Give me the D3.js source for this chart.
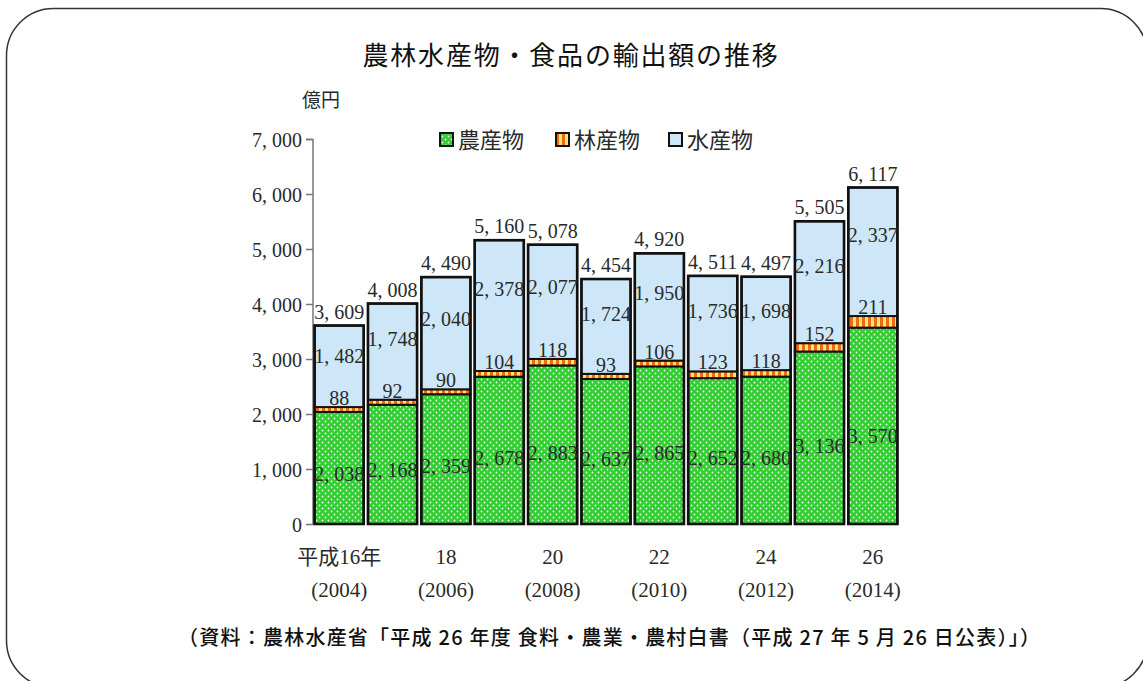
<!DOCTYPE html>
<html>
<head>
<meta charset="utf-8">
<script src="https://cdn.jsdelivr.net/npm/d3@7/dist/d3.min.js"></script>
<style>
  html, body { margin: 0; padding: 0; background: #fff; }
  svg { display: block; }
</style>
</head>
<body>
<svg id="chart" width="1143" height="681"></svg>
<script>
// 農林水産物・食品の輸出額（億円）
const years = [2004, 2005, 2006, 2007, 2008, 2009, 2010, 2011, 2012, 2013, 2014];
const agri = [2038, 2168, 2359, 2678, 2883, 2637, 2865, 2652, 2680, 3136, 3570];
const forest = [88, 92, 90, 104, 118, 93, 106, 123, 118, 152, 211];
const fish = [1482, 1748, 2040, 2378, 2077, 1724, 1950, 1736, 1698, 2216, 2337];
const totals = [3609, 4008, 4490, 5160, 5078, 4454, 4920, 4511, 4497, 5505, 6117];

const yTicks = [0, 1000, 2000, 3000, 4000, 5000, 6000, 7000];
const xTickYears = [2004, 2006, 2008, 2010, 2012, 2014];
const xTickEra = ["平成16年", "18", "20", "22", "24", "26"];

const seriesNames = ["農産物", "林産物", "水産物"];

const svg = d3.select("#chart");
const serif = "'Liberation Serif', 'DejaVu Serif', 'Noto Sans CJK JP', serif";
const sans = "'Noto Sans CJK JP', 'Noto Sans', sans-serif";
const textColor = "#2a2a2a";

// patterns for the filled segments
const defs = svg.append("defs");
const pAgri = defs.append("pattern").attr("id", "pAgri")
  .attr("patternUnits", "userSpaceOnUse").attr("width", 6).attr("height", 6);
pAgri.append("rect").attr("width", 6).attr("height", 6).attr("fill", "#33cc33");
pAgri.append("circle").attr("cx", 1.5).attr("cy", 1.5).attr("r", 0.9).attr("fill", "#e8ffe8");
pAgri.append("circle").attr("cx", 4.5).attr("cy", 4.5).attr("r", 0.9).attr("fill", "#e8ffe8");

const pForest = defs.append("pattern").attr("id", "pForest")
  .attr("patternUnits", "userSpaceOnUse").attr("width", 6).attr("height", 6);
pForest.append("rect").attr("width", 6).attr("height", 6).attr("fill", "#f06a10");
pForest.append("rect").attr("x", 1).attr("width", 3).attr("height", 6).attr("fill", "#ffe27a");

const fills = ["url(#pAgri)", "url(#pForest)", "#cde7f8"];

// frame
svg.append("rect")
  .attr("x", 6.5).attr("y", 8.5).attr("width", 1141).attr("height", 679)
  .attr("rx", 47).attr("ry", 47)
  .attr("fill", "none").attr("stroke", "#333").attr("stroke-width", 1.5);

// title
svg.append("text")
  .attr("x", 571).attr("y", 65)
  .attr("text-anchor", "middle")
  .attr("font-family", sans).attr("font-size", 26)
  .attr("letter-spacing", 1.8)
  .attr("fill", "#111")
  .text("農林水産物・食品の輸出額の推移");

// scales
const x = d3.scaleBand().domain(years).range([313, 899]).paddingInner(0.08).paddingOuter(0.03);
const y = d3.scaleLinear().domain([0, 7000]).range([524, 139]);

// y axis
const fmt = v => d3.format(",")(v).replace(",", ", ");
const yAxis = d3.axisLeft(y).tickValues(yTicks).tickSize(7).tickPadding(4).tickFormat(fmt);
const gy = svg.append("g").attr("transform", "translate(313,0)").call(yAxis);
gy.select(".domain").attr("stroke", "#777").attr("stroke-width", 1.5).attr("d", "M-7,139.5H0V524");
gy.selectAll(".tick line").attr("stroke", "#777").attr("stroke-width", 1.5);
gy.selectAll(".tick text")
  .attr("font-family", serif).attr("font-size", 20).attr("fill", textColor).attr("dy", "0.36em");

// unit label
svg.append("text")
  .attr("x", 321).attr("y", 107)
  .attr("text-anchor", "middle")
  .attr("font-family", sans).attr("font-size", 19).attr("fill", textColor)
  .text("億円");

// stacked data
const rows = years.map((yr, i) => ({ year: yr, agri: agri[i], forest: forest[i], fish: fish[i], total: totals[i] }));
const stack = d3.stack().keys(["agri", "forest", "fish"])(rows);

const bars = svg.append("g");
stack.forEach((layer, k) => {
  bars.append("g").selectAll("rect")
    .data(layer)
    .join("rect")
    .attr("x", d => x(d.data.year))
    .attr("width", x.bandwidth())
    .attr("y", d => y(d[1]))
    .attr("height", d => y(d[0]) - y(d[1]))
    .attr("fill", fills[k])
    .attr("stroke", "#111")
    .attr("stroke-width", 2);
});
// outer outline of each bar
bars.append("g").selectAll("rect")
  .data(stack[2])
  .join("rect")
  .attr("x", d => x(d.data.year))
  .attr("width", x.bandwidth())
  .attr("y", d => y(d[1]))
  .attr("height", d => y(0) - y(d[1]))
  .attr("fill", "none")
  .attr("stroke", "#111")
  .attr("stroke-width", 2.6);

// value labels
const labels = svg.append("g")
  .attr("font-family", serif).attr("font-size", 20).attr("fill", textColor)
  .attr("text-anchor", "middle");
const cx = d => x(d.data.year) + x.bandwidth() / 2;

labels.selectAll(".lab-agri").data(stack[0]).join("text")
  .attr("x", cx)
  .attr("y", d => y(d[1] * 0.45))
  .attr("dy", "0.35em")
  .text(d => fmt(d.data.agri));

labels.selectAll(".lab-forest").data(stack[1]).join("text")
  .attr("x", cx)
  .attr("y", d => y(d[1]) - 9)
  .attr("dy", "0.35em")
  .text(d => fmt(d.data.forest));

labels.selectAll(".lab-fish").data(stack[2]).join("text")
  .attr("x", cx)
  .attr("y", d => y(d[0] + (d[1] - d[0]) * 0.63))
  .attr("dy", "0.35em")
  .text(d => fmt(d.data.fish));

labels.selectAll(".lab-total").data(stack[2]).join("text")
  .attr("x", cx)
  .attr("y", d => y(d[1]) - 14)
  .attr("dy", "0.35em")
  .text(d => fmt(d.data.total));

// x axis labels
const xl = svg.append("g")
  .attr("font-family", serif).attr("font-size", 21).attr("fill", textColor)
  .attr("text-anchor", "middle");
xTickYears.forEach((yr, i) => {
  const px = x(yr) + x.bandwidth() / 2;
  xl.append("text").attr("x", px).attr("y", 564).text(xTickEra[i]);
  xl.append("text").attr("x", px).attr("y", 597).text("(" + yr + ")");
});

// legend
const legend = svg.append("g").attr("font-family", sans).attr("font-size", 22).attr("fill", textColor);
const legendX = [440, 556, 669];
seriesNames.forEach((name, i) => {
  legend.append("rect")
    .attr("x", legendX[i]).attr("y", 133).attr("width", 13).attr("height", 13)
    .attr("fill", fills[i]).attr("stroke", "#111").attr("stroke-width", 2);
  legend.append("text")
    .attr("x", legendX[i] + 18).attr("y", 140).attr("dy", "0.36em")
    .text(name);
});

// source note
svg.append("text")
  .attr("x", 609).attr("y", 645)
  .attr("text-anchor", "middle")
  .attr("font-family", sans).attr("font-size", 20).attr("font-weight", 500).attr("fill", "#111")
  .attr("textLength", 862).attr("lengthAdjust", "spacing")
  .text("（資料：農林水産省「平成 26 年度  食料・農業・農村白書（平成 27 年 5 月 26 日公表）」）");
</script>
</body>
</html>
